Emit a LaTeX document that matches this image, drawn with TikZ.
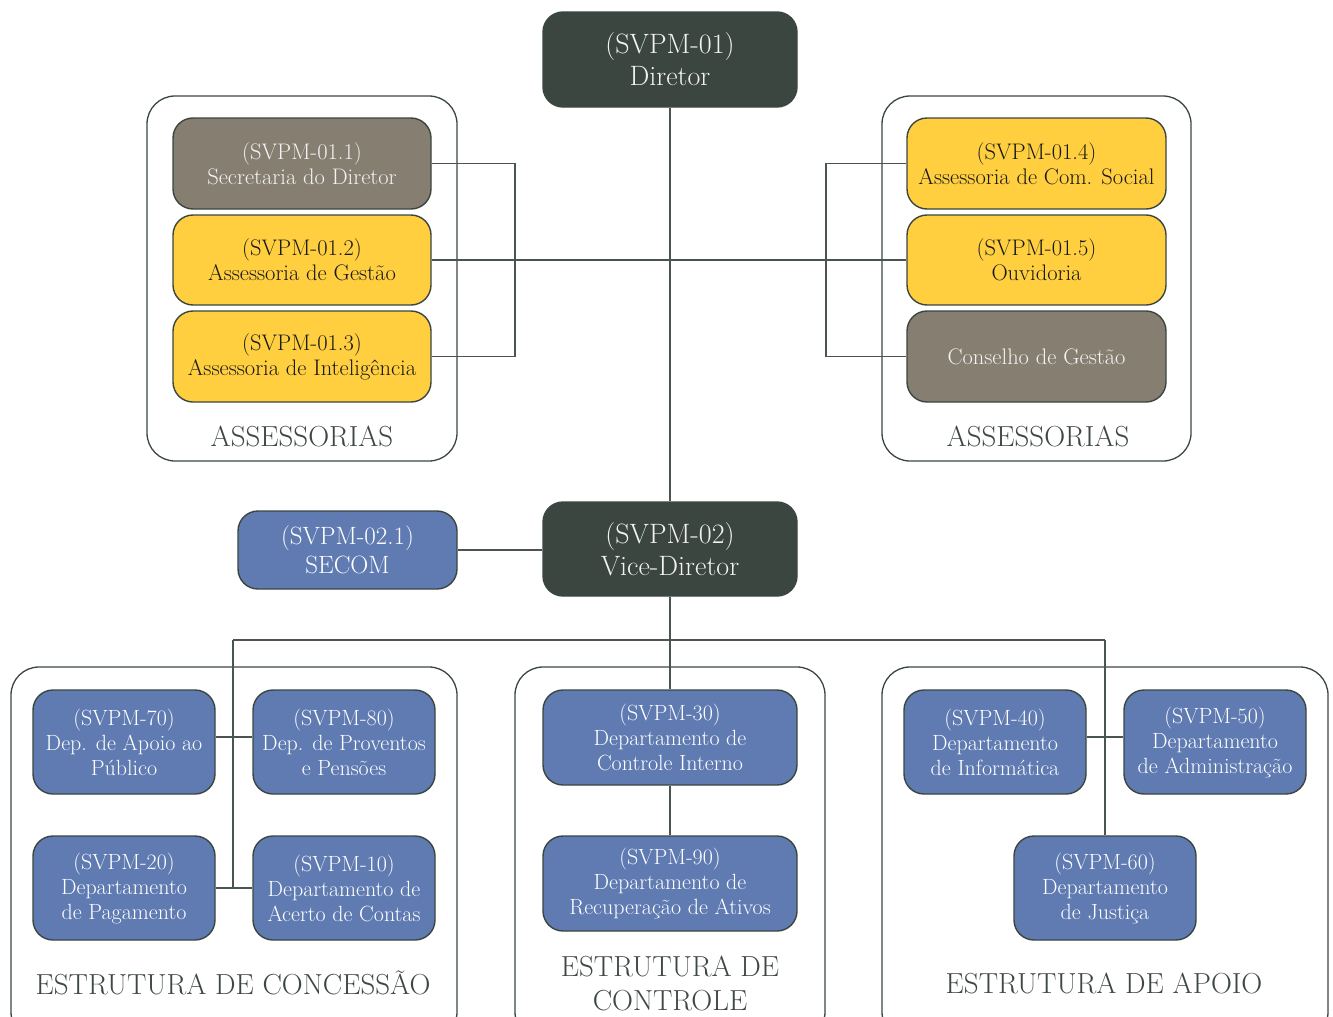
\documentclass[tikz,border=0pt]{standalone}
\definecolor{dk}{HTML}{3B4640}
\definecolor{ln}{HTML}{4A5550}
\definecolor{gr}{HTML}{877E72}
\definecolor{ye}{HTML}{FFCF40}
\definecolor{bl}{HTML}{5F7BB1}
\definecolor{lb}{HTML}{3E4843}
\definecolor{lt}{HTML}{F2F2F2}
\begin{document}
\begin{tikzpicture}[x=1pt,y=-1pt,
  box/.style={draw=dk, line width=1.4pt, rounded corners=20pt, align=center, inner sep=0pt},
  topbox/.style={box, fill=dk, text=lt, minimum width=254pt, minimum height=95pt, font=\fontsize{28}{32}\selectfont},
  graybox/.style={box, fill=gr, text=lt, minimum width=258pt, minimum height=91pt, font=\fontsize{22.5}{25}\selectfont},
  yelbox/.style={box, fill=ye, text=black!90, minimum width=258pt, minimum height=91pt, font=\fontsize{22.5}{25}\selectfont},
  bluebox/.style={box, fill=bl, text=white, minimum width=182pt, minimum height=104pt, font=\fontsize{22}{25}\selectfont},
  group/.style={draw=dk, line width=1.3pt, rounded corners=28pt, inner sep=0pt},
  grouplabel/.style={text=lb, font=\fontsize{29}{34}\selectfont, align=center, inner sep=0pt},
  conn/.style={draw=ln, line width=1.8pt}]
\useasboundingbox (0,0) rectangle (1333,1017);
\clip (0,0) rectangle (1333,1017);

% containers
\node[group, minimum width=310pt, minimum height=365pt] (gL) at (302,278.5) {};
\node[group, minimum width=309pt, minimum height=365pt] (gR) at (1036.5,278.5) {};
\node[group, minimum width=446pt, minimum height=373pt] (gC) at (234,853.5) {};
\node[group, minimum width=310pt, minimum height=373pt] (gK) at (670,853.5) {};
\node[group, minimum width=446pt, minimum height=373pt] (gA) at (1105,853.5) {};

\node[grouplabel] (tL) at (302,436) {ASSESSORIAS};
\node[grouplabel] (tR) at (1038,436) {ASSESSORIAS};
\node[grouplabel] (tC) at (233,983) {ESTRUTURA DE CONCESSÃO};
\node[grouplabel] (tK) at (670,983) {ESTRUTURA DE\\CONTROLE};
\node[grouplabel] (tA) at (1104,983) {ESTRUTURA DE APOIO};

% top
\node[topbox] (d01) at (670,59.5) {(SVPM-01)\\Diretor};
\node[topbox, minimum height=94pt] (d02) at (670,549) {(SVPM-02)\\Vice-Diretor};

\node[graybox] (a11) at (302,163.5) {(SVPM-01.1)\\Secretaria do Diretor};
\node[yelbox, minimum height=90pt] (a12) at (302,260) {(SVPM-01.2)\\Assessoria de Gestão};
\node[yelbox] (a13) at (302,356.5) {(SVPM-01.3)\\Assessoria de Inteligência};

\node[yelbox, minimum width=259pt] (a14) at (1036.5,163.5) {(SVPM-01.4)\\Assessoria de Com. Social};
\node[yelbox, minimum width=259pt, minimum height=90pt] (a15) at (1036.5,260) {(SVPM-01.5)\\Ouvidoria};
\node[graybox, minimum width=259pt] (cg) at (1036.5,356.5) {Conselho de Gestão};

\node[bluebox, minimum width=219pt, minimum height=78pt, font=\fontsize{25}{29}\selectfont] (secom) at (347.5,550) {(SVPM-02.1)\\SECOM};

% bottom boxes
\node[bluebox] (s70) at (124,742) {(SVPM-70)\\Dep. de Apoio ao\\Público};
\node[bluebox] (s80) at (344,742) {(SVPM-80)\\Dep. de Proventos\\e Pensões};
\node[bluebox] (s20) at (124,888) {(SVPM-20)\\Departamento\\de Pagamento};
\node[bluebox] (s10) at (344,888) {(SVPM-10)\\Departamento de\\Acerto de Contas};

\node[bluebox, minimum width=254pt, minimum height=95pt] (s30) at (670,737.5) {(SVPM-30)\\Departamento de\\Controle Interno};
\node[bluebox, minimum width=254pt, minimum height=95pt] (s90) at (670,883.5) {(SVPM-90)\\Departamento de\\Recuperação de Ativos};

\node[bluebox] (s40) at (995,742) {(SVPM-40)\\Departamento\\de Informática};
\node[bluebox] (s50) at (1215,742) {(SVPM-50)\\Departamento\\de Administração};
\node[bluebox] (s60) at (1105,888) {(SVPM-60)\\Departamento\\de Justiça};

% coordinates
\coordinate (lbr) at (515,0);
\coordinate (rbr) at (826,0);
\coordinate (busL) at (233,640);
\coordinate (busR) at (1105,640);

% connectors
\draw[conn] (d01.south) -- (d02.north);
\draw[conn] (a12.east) -- (a15.west);
\draw[conn] (a11.east) -- (a11.east -| lbr) |- (a13.east);
\draw[conn] (a14.west) -- (a14.west -| rbr) |- (cg.west);
\draw[conn] (secom.east) -- (secom.east -| d02.west);
\draw[conn] (d02.south) -- (s30.north);
\draw[conn] (busL) -- (busR);
\draw[conn] (busL) -- (busL |- s20.east);
\draw[conn] ([yshift=5pt]s70.east) -- ([yshift=5pt]s80.west);
\draw[conn] (s20.east) -- (s10.west);
\draw[conn] (busR) -- (s60.north);
\draw[conn] ([yshift=5pt]s40.east) -- ([yshift=5pt]s50.west);
\draw[conn] (s30.south) -- (s90.north);
\end{tikzpicture}
\end{document}
